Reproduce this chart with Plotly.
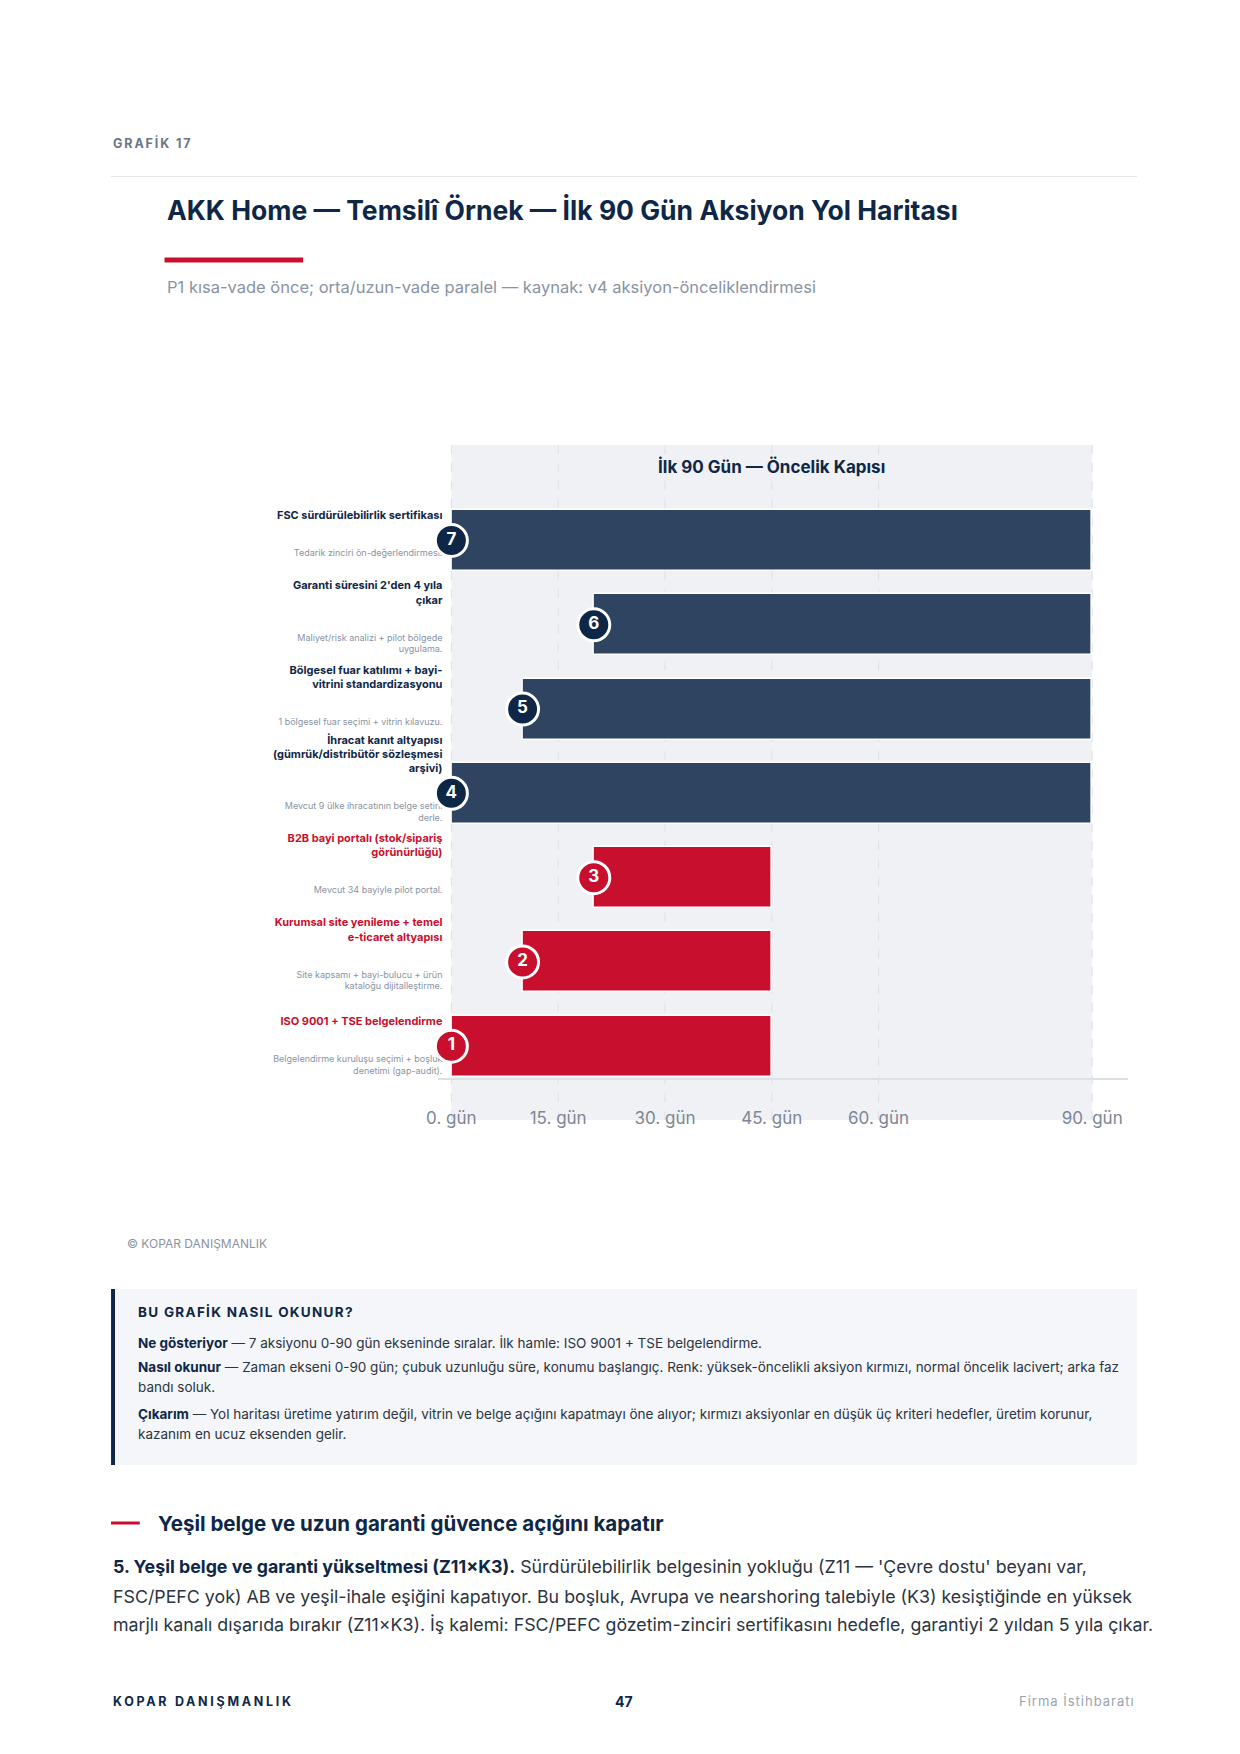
import plotly.graph_objects as go

# ---------------- data ----------------
action_ids = [1, 2, 3, 4, 5, 6, 7]
action_titles = [
    "ISO 9001 + TSE belgelendirme",
    "Kurumsal site yenileme + temel<br>e-ticaret altyapısı",
    "B2B bayi portalı (stok/sipariş<br>görünürlüğü)",
    "İhracat kanıt altyapısı<br>(gümrük/distribütör sözleşmesi<br>arşivi)",
    "Bölgesel fuar katılımı + bayi-<br>vitrini standardizasyonu",
    "Garanti süresini 2'den 4 yıla<br>çıkar",
    "FSC sürdürülebilirlik sertifikası",
]
action_notes = [
    "Belgelendirme kuruluşu seçimi + boşluk<br>denetimi (gap-audit).",
    "Site kapsamı + bayi-bulucu + ürün<br>kataloğu dijitalleştirme.",
    "Mevcut 34 bayiyle pilot portal.",
    "Mevcut 9 ülke ihracatının belge setini<br>derle.",
    "1 bölgesel fuar seçimi + vitrin kılavuzu.",
    "Maliyet/risk analizi + pilot bölgede<br>uygulama.",
    "Tedarik zinciri ön-değerlendirmesi.",
]
start_day = [0, 10, 20, 0, 10, 20, 0]
end_day = [45, 45, 45, 90, 90, 90, 90]
priority = ["high", "high", "high", "normal", "normal", "normal", "normal"]

tick_days = [0, 15, 30, 45, 60, 90]
tick_labels = ["0. gün", "15. gün", "30. gün", "45. gün", "60. gün", "90. gün"]
phase_start, phase_end = 0, 90
phase_label = "İlk 90 Gün — Öncelik Kapısı"

# ---------------- style ----------------
W, H = 1240, 1754
NAVY = "#0f2747"
NAVY_BAR = "#2f4460"
RED = "#c8102e"
GRAY = "#8a93a3"
TEXT = "#2b3441"
BAND = "#f0f1f4"
GRID = "#dde1e7"
FONT = "Inter"


def px(x):
    return x / W


def py(y):
    return 1 - y / H


# plot geometry (pixels on the page)
X_LEFT_PX, X_RIGHT_PX = 430, 1126.7
Y_TOP_PX, Y_BOT_PX = 445, 1077.5
X_RANGE = [-1.9, 95.0]
Y_RANGE = [0.629, 8.133]
row_px = (Y_BOT_PX - Y_TOP_PX) / (Y_RANGE[1] - Y_RANGE[0])
day_px = (X_RIGHT_PX - X_LEFT_PX) / (X_RANGE[1] - X_RANGE[0])
label_x = -9 / day_px
title_dy = 18.4 / row_px
note_dy = -9 / row_px

durations = [e - s for s, e in zip(start_day, end_day)]
bar_colors = [RED if p == "high" else NAVY_BAR for p in priority]
circle_colors = [RED if p == "high" else NAVY for p in priority]
title_colors = [RED if p == "high" else NAVY for p in priority]

fig = go.Figure()

fig.add_trace(go.Bar(
    y=action_ids, x=durations, base=start_day, orientation="h",
    width=0.724,
    marker=dict(color=bar_colors, line=dict(color="white", width=1.5)),
    hoverinfo="skip",
))

fig.add_trace(go.Scatter(
    x=[label_x] * len(action_ids), y=[r + title_dy for r in action_ids],
    text=action_titles, mode="text", textposition="top left",
    textfont=dict(family=FONT, size=11, color=title_colors, weight=700),
    cliponaxis=False, hoverinfo="skip",
))

fig.add_trace(go.Scatter(
    x=[label_x] * len(action_ids), y=[r + note_dy for r in action_ids],
    text=action_notes, mode="text", textposition="bottom left",
    textfont=dict(family=FONT, size=9, color=GRAY),
    cliponaxis=False, hoverinfo="skip",
))

fig.add_trace(go.Scatter(
    x=start_day, y=action_ids, mode="markers+text",
    marker=dict(size=32, color=circle_colors, line=dict(color="white", width=3)),
    text=[str(i) for i in action_ids], textposition="middle center",
    textfont=dict(family=FONT, size=17, color="white", weight=700),
    cliponaxis=False, hoverinfo="skip",
))

shapes = [
    dict(type="rect", xref="x", yref="paper", x0=phase_start, x1=phase_end,
         y0=py(1120), y1=py(Y_TOP_PX), fillcolor=BAND, line=dict(width=0), layer="below"),
]
for d in tick_days:
    shapes.append(dict(type="line", xref="x", yref="paper", x0=d, x1=d,
                       y0=py(1120), y1=py(Y_TOP_PX),
                       line=dict(color=GRID, width=1, dash="dash"), layer="below"))
# page decorations
shapes += [
    dict(type="line", xref="paper", yref="paper", x0=px(100), x1=px(1136),
         y0=py(176.5), y1=py(176.5), line=dict(color="#e3e6eb", width=1)),
    dict(type="line", xref="paper", yref="paper", x0=px(154), x1=px(294),
         y0=py(260), y1=py(260), line=dict(color=RED, width=5)),
    dict(type="rect", xref="paper", yref="paper", x0=px(100), x1=px(1136),
         y0=py(1465), y1=py(1289), fillcolor="#f4f6f9", line=dict(width=0)),
    dict(type="rect", xref="paper", yref="paper", x0=px(100), x1=px(104),
         y0=py(1465), y1=py(1289), fillcolor=NAVY, line=dict(width=0)),
    dict(type="line", xref="paper", yref="paper", x0=px(100), x1=px(129),
         y0=py(1523), y1=py(1523), line=dict(color=RED, width=3)),
]


def ann(text, x, y, size, color, xanchor="left", bold=False, yanchor="middle"):
    return dict(text=f"<b>{text}</b>" if bold else text, x=px(x), y=py(y),
                xref="paper", yref="paper", xanchor=xanchor, yanchor=yanchor,
                align=xanchor if xanchor != "center" else "center",
                showarrow=False, font=dict(family=FONT, size=size, color=color))


def lead(b, rest):
    return f"<span style='color:{NAVY}'><b>{b}</b></span> — {rest}"


annotations = [
    ann("GRAFİK 17", 100, 143, 12.5, "#6b7689", bold=True),
    ann("AKK Home — Temsilî Örnek — İlk 90 Gün Aksiyon Yol Haritası", 154, 210, 26.5, NAVY, bold=True),
    ann("P1 kısa-vade önce; orta/uzun-vade paralel — kaynak: v4 aksiyon-önceliklendirmesi", 154, 287, 16.5, GRAY),
    dict(text=f"<b>{phase_label}</b>", x=(phase_start + phase_end) / 2, y=py(466.7),
         xref="x", yref="paper", xanchor="center", yanchor="middle", showarrow=False,
         font=dict(family=FONT, size=17, color=NAVY)),
    ann("© KOPAR DANIŞMANLIK", 114, 1243, 12, GRAY),
    ann("BU GRAFİK NASIL OKUNUR?", 125, 1312, 13.5, NAVY, bold=True),
    ann(lead("Ne gösteriyor", "7 aksiyonu 0-90 gün ekseninde sıralar. İlk hamle: ISO 9001 + TSE belgelendirme."),
        125, 1343, 13.5, TEXT),
    ann(lead("Nasıl okunur", "Zaman ekseni 0-90 gün; çubuk uzunluğu süre, konumu başlangıç. Renk: yüksek-öncelikli aksiyon kırmızı, normal öncelik lacivert; arka faz"),
        125, 1367, 13.5, TEXT),
    ann("bandı soluk.", 125, 1387, 13.5, TEXT),
    ann(lead("Çıkarım", "Yol haritası üretime yatırım değil, vitrin ve belge açığını kapatmayı öne alıyor; kırmızı aksiyonlar en düşük üç kriteri hedefler, üretim korunur,"),
        125, 1414, 13.5, TEXT),
    ann("kazanım en ucuz eksenden gelir.", 125, 1434, 13.5, TEXT),
    ann("Yeşil belge ve uzun garanti güvence açığını kapatır", 145, 1523, 20.5, NAVY, bold=True),
    ann(f"<span style='color:{NAVY}'><b>5. Yeşil belge ve garanti yükseltmesi (Z11×K3).</b></span> Sürdürülebilirlik belgesinin yokluğu (Z11 — 'Çevre dostu' beyanı var,",
        100, 1566, 17.8, TEXT),
    ann("FSC/PEFC yok) AB ve yeşil-ihale eşiğini kapatıyor. Bu boşluk, Avrupa ve nearshoring talebiyle (K3) kesiştiğinde en yüksek",
        100, 1596, 17.8, TEXT),
    ann("marjlı kanalı dışarıda bırakır (Z11×K3). İş kalemi: FSC/PEFC gözetim-zinciri sertifikasını hedefle, garantiyi 2 yıldan 5 yıla çıkar.",
        100, 1624, 17.8, TEXT),
    ann("KOPAR DANIŞMANLIK", 100, 1701, 12.5, NAVY, bold=True),
    ann("47", 618, 1701, 14, NAVY, xanchor="center", bold=True),
    ann("Firma İstihbaratı", 1136, 1701, 13, "#9aa3b2", xanchor="right"),
]

fig.update_layout(
    width=W, height=H, margin=dict(l=0, r=0, t=0, b=0),
    paper_bgcolor="white", plot_bgcolor="rgba(0,0,0,0)",
    showlegend=False, font=dict(family=FONT), hovermode=False,
    shapes=shapes, annotations=annotations, bargap=0,
    xaxis=dict(domain=[px(X_LEFT_PX), px(X_RIGHT_PX)], range=X_RANGE,
               tickvals=tick_days, ticktext=tick_labels, showgrid=False, zeroline=False,
               showline=True, linecolor="#dde1e7", linewidth=2, ticks="",
               ticklabelstandoff=24, tickfont=dict(family=FONT, size=17, color="#7d8696"),
               fixedrange=True),
    yaxis=dict(domain=[py(Y_BOT_PX), py(Y_TOP_PX)], range=Y_RANGE, showgrid=False,
               zeroline=False, showticklabels=False, showline=False, fixedrange=True),
)

# letter-spaced caption texts (tracking, as in the reference typography)
tracking = {
    "GRAFİK 17": "1.9px",
    "BU GRAFİK NASIL OKUNUR?": "1.3px",
    "KOPAR DANIŞMANLIK": "2.7px",
    "Firma İstihbaratı": "1px",
}
tracking_js = ",".join(f'"{k}":"{v}"' for k, v in tracking.items())
post = (
    "document.body.style.margin='0';document.body.style.overflow='hidden';"
    "var sp={" + tracking_js + "};"
    "document.querySelectorAll('text.annotation-text').forEach(function(t){"
    "var s=sp[t.textContent];if(s){t.style.letterSpacing=s;}});"
)

fig.write_html("out.html", config={"displayModeBar": False, "staticPlot": False},
               post_script=post)
